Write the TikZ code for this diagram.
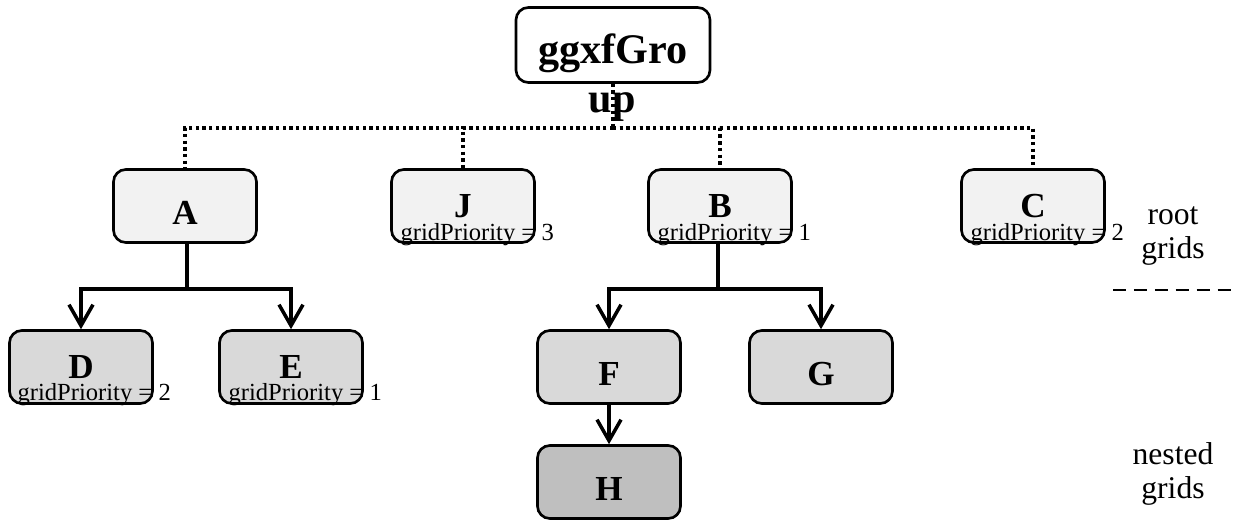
\documentclass[tikz,border=0pt]{standalone}
\usepackage{fontspec}
\setmainfont{Liberation Serif}
\usetikzlibrary{arrows.meta}

\definecolor{rootfill}{HTML}{F2F2F2}
\definecolor{nestfill}{HTML}{D9D9D9}
\definecolor{deepfill}{HTML}{BFBFBF}

\tikzset{
    gridbox/.style = {draw, rounded corners = 7pt, line width = 1.5pt,
        minimum width = 2.86cm, minimum height = 1.46cm,
        text height = 21.6pt, text depth = 0pt,
        font = \fontsize{20}{24}\selectfont\bfseries},
    rootbox/.style = {gridbox, fill = rootfill},
    nestbox/.style = {gridbox, fill = nestfill},
    deepbox/.style = {gridbox, fill = deepfill},
    withprio/.style = {text height = 13pt},
    topbox/.style = {gridbox, fill = white, minimum width = 3.88cm,
        minimum height = 1.5cm, font = \fontsize{24}{28}\selectfont\bfseries},
    prio/.style = {anchor = base west, inner sep = 0pt,
        font = \fontsize{14}{16}\selectfont},
    side/.style = {align = center, font = \fontsize{18}{19}\selectfont},
    dots/.style = {line width = 1.9pt, dash pattern = on 1.9pt off 1.9pt},
    link/.style = {line width = 2pt, -{Straight Barb[length = 4.2mm, width = 4.8mm]}},
    elbow/.style = {to path = {-| (\tikztotarget)}},
}

\begin{document}
\begin{tikzpicture}[x = 0.02cm, y = -0.02cm]
    \useasboundingbox (0, 0) rectangle (1233, 520);

    \draw
        (613, 45) node [topbox] (top) {ggxfGro}
        (612, 113) node [anchor = base, inner sep = 0pt,
            font = \fontsize{24}{28}\selectfont\bfseries] (topup) {up}

        (185, 206) node [rootbox] (A) {A}
        (463, 206) node [rootbox, withprio] (J) {J}
        (720, 206) node [rootbox, withprio] (B) {B}
        (1033, 206) node [rootbox, withprio] (C) {C}

        (81, 367) node [nestbox, withprio] (D) {D}
        (291, 367) node [nestbox, withprio] (E) {E}
        (609, 367) node [nestbox] (F) {F}
        (821, 367) node [nestbox] (G) {G}
        (609, 482) node [deepbox] (H) {H}

        ([shift = {(10, -3)}] J.south west) node [prio] (Jprio) {gridPriority = 3}
        ([shift = {(10, -3)}] B.south west) node [prio] (Bprio) {gridPriority = 1}
        ([shift = {(10, -3)}] C.south west) node [prio] (Cprio) {gridPriority = 2}
        ([shift = {(9, -4)}] D.south west) node [prio] (Dprio) {gridPriority = 2}
        ([shift = {(10, -4)}] E.south west) node [prio] (Eprio) {gridPriority = 1}

        (1173, 236) node [side] (rootlabel) {root\\grids}
        (1173, 474) node [side] (nestlabel) {nested\\grids}
        ;

    \coordinate (rj) at (613, 128);
    \coordinate (aj) at (187, 289);
    \coordinate (bj) at (718, 289);

    \draw [dots]
        (top) edge (rj)
        (rj) edge [elbow] (A)
        (rj) edge [elbow] (J)
        (rj) edge [elbow] (B)
        (rj) edge [elbow] (C)
        ;

    \draw [line width = 2pt]
        (A.south -| aj) edge (aj)
        (aj) edge [elbow, link] (D)
        (aj) edge [elbow, link] (E)
        (B.south -| bj) edge (bj)
        (bj) edge [elbow, link] (F)
        (bj) edge [elbow, link] (G)
        (F) edge [link] (H)
        ;

    \draw [line width = 1.2pt, dash pattern = on 7.4pt off 4.5pt] (1113, 290) -- (1233, 290);
\end{tikzpicture}
\end{document}
